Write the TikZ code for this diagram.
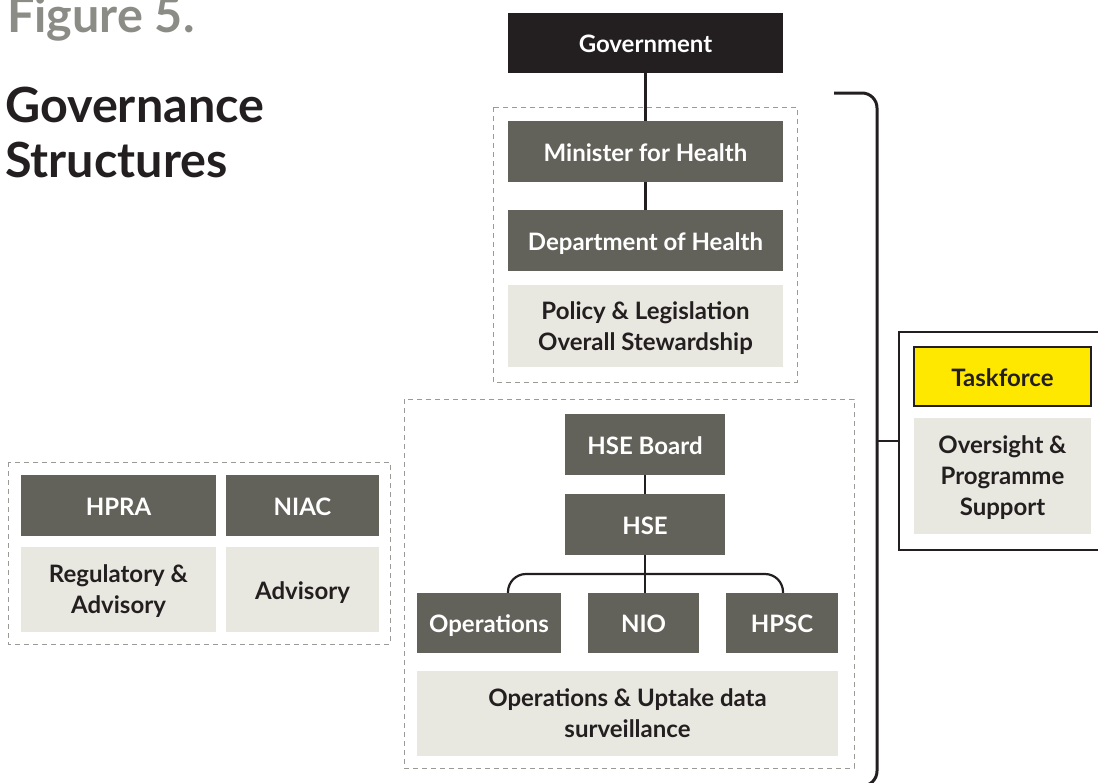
\documentclass[tikz,border=0pt]{standalone}
\usepackage{fontspec}
\setmainfont{Lato}
\definecolor{darkbox}{HTML}{63625A}
\definecolor{lightbox}{HTML}{E9E8E0}
\definecolor{inkc}{HTML}{231F20}
\definecolor{figgray}{HTML}{8B8C86}
\definecolor{tfyellow}{HTML}{FFE800}
\definecolor{dashc}{HTML}{9A9A96}
\newcommand{\lblfont}{\fontsize{24}{31}\selectfont\bfseries}
\begin{document}
\begin{tikzpicture}[x=1pt,y=-1pt,
  base/.style={inner sep=0pt, align=center, font=\lblfont, text depth=0pt},
  one/.style={text height=19.5pt},
  dark/.style={base, one, fill=darkbox, text=white},
  light/.style={base, fill=lightbox, text=inkc},
  conn/.style={draw=inkc, line width=2.2pt},
  dbox/.style={draw=dashc, line width=1pt, dash pattern=on 5pt off 4pt},
  title/.style={anchor=base west, inner sep=0pt, font=\fontsize{48.5}{56}\selectfont\bfseries}
]
\useasboundingbox (0,0) rectangle (1098,782);
\clip (0,0) rectangle (1098,782);

% titles
\node[title, text=figgray] (fig) at (7,32) {Figure 5.};
\node[title, text=inkc] (gov1) at (5,122) {Governance};
\node[title, text=inkc] (gov2) at (5,177) {Structures};

% dashed groups
\draw[dbox] (493,107) rectangle (797,382);
\draw[dbox] (404,399) rectangle (854,768);
\draw[dbox] (8,462) rectangle (390,644);

% top chain
\node[base, one, fill=inkc, text=white, minimum width=275, minimum height=60] (gov) at (645.5,43) {Government};
\node[dark, minimum width=275, minimum height=61] (min) at (645.5,151.5) {Minister for Health};
\node[dark, minimum width=275, minimum height=61] (dept) at (645.5,240.5) {Department of Health};
\node[light, minimum width=275, minimum height=82] (pol) at (645.5,326) {Policy \& Legislation\\Overall Stewardship};

% HSE group
\node[dark, minimum width=160, minimum height=61] (hseb) at (645,444.5) {HSE Board};
\node[dark, minimum width=160, minimum height=61] (hse) at (645,524.5) {HSE};
\node[dark, minimum width=144, minimum height=60] (ops) at (489,623) {Operations};
\node[dark, minimum width=111, minimum height=60] (nio) at (643.5,623) {NIO};
\node[dark, minimum width=112, minimum height=60] (hpsc) at (782,623) {HPSC};
\node[light, minimum width=421, minimum height=85] (upt) at (627.5,713.5) {Operations \& Uptake data\\surveillance};

% left group
\node[dark, minimum width=195, minimum height=61] (hpra) at (118.5,505.5) {HPRA};
\node[dark, minimum width=153, minimum height=61] (niac) at (302.5,505.5) {NIAC};
\node[light, minimum width=195, minimum height=85] (reg) at (118.5,589.5) {Regulatory \&\\Advisory};
\node[light, one, minimum width=153, minimum height=85] (adv) at (302.5,589.5) {Advisory};

% taskforce
\node[draw=inkc, line width=2.5pt, minimum width=216, minimum height=218, inner sep=0pt] (tfo) at (1007,441) {};
\node[base, one, fill=tfyellow, text=inkc, draw=inkc, line width=2pt, minimum width=177, minimum height=59] (tf) at (1002.5,376.5) {Taskforce};
\node[light, minimum width=177, minimum height=116] (ovs) at (1002.5,476) {Oversight \&\\Programme\\Support};

% connectors
\draw[conn] (gov.south) -- (min.north);
\draw[conn] (min.south) -- (dept.north);
\draw[conn] (hseb.south) -- (hse.north);
\draw[conn] (hse.south) -- (hse.south |- nio.north);
\coordinate (bl) at (508,574);
\coordinate (br) at (783,574);
\draw[conn, rounded corners=18pt] (bl |- ops.north) -- (bl) -- (br) -- (br |- hpsc.north);

% bracket
\coordinate (bt) at (834,93);
\coordinate (bk) at (877,441);
\coordinate (bb) at (834,786);
\draw[draw=inkc, line width=3pt, rounded corners=15pt] (bt) -- (bt -| bk) -- (bb -| bk) -- (bb);
\draw[conn] (bk) -- (tfo.west);
\end{tikzpicture}
\end{document}
